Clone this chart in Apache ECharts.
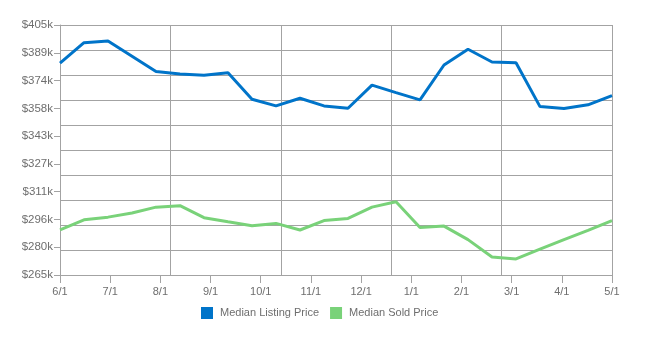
<!DOCTYPE html>
<html>
<head>
<meta charset="utf-8">
<script src="https://cdn.jsdelivr.net/npm/echarts@6/dist/echarts.min.js"></script>
<style>
html,body{margin:0;padding:0;background:#fff;}
#c{width:660px;height:342px;}
</style>
</head>
<body>
<div id="c"></div>
<script>
const monthLabels = ['6/1','7/1','8/1','9/1','10/1','11/1','12/1','1/1','2/1','3/1','4/1','5/1'];
const yTickLabels = ['$265k','$280k','$296k','$311k','$327k','$343k','$358k','$374k','$389k','$405k'];
const periodIndex = ['1','2','3','4','5','6','7','8','9','10','11','12','13','14','15','16','17','18','19','20','21','22','23','24'];
const listingPrice = [383.6,395.1,396.0,387.5,378.9,377.6,376.9,378.3,363.4,359.7,364.0,359.7,358.4,371.3,367.1,363.1,382.6,391.4,384.3,383.9,359.3,358.2,360.3,365.5];
const soldPrice = [290.3,295.9,297.4,299.7,303.0,303.8,297.1,294.8,292.6,293.9,290.2,295.5,296.7,303.0,306.0,291.6,292.4,284.8,275.1,274.0,279.5,284.8,290.0,295.4];
const seriesNames = ['Median Listing Price','Median Sold Price'];
const yMin = 265, yMax = 405;

const gridColor = '#a3a3a3';
const labelColor = '#6e6e6e';
const chart = echarts.init(document.getElementById('c'), null, {renderer:'canvas'});
chart.setOption({
  animation:false,
  textStyle:{fontFamily:'Liberation Sans, Arial, sans-serif'},
  grid:{left:60,right:48,top:25,bottom:67,containLabel:false},
  legend:{
    left:201, top:307, padding:0, icon:'rect', itemWidth:12, itemHeight:12, itemGap:11,
    textStyle:{color:labelColor,fontSize:11,padding:[0,0,0,2],fontFamily:'Liberation Sans, Arial, sans-serif'},
    data:seriesNames
  },
  xAxis:[
    {type:'category',data:monthLabels,boundaryGap:false,position:'bottom',
     axisLine:{show:true,lineStyle:{color:gridColor,width:1}},
     axisTick:{show:true,length:8,lineStyle:{color:gridColor}},
     axisLabel:{color:labelColor,fontSize:11,margin:11},
     splitLine:{show:false}},
    {type:'value',min:0,max:5,interval:1,position:'bottom',
     axisLine:{show:false},axisTick:{show:false},axisLabel:{show:false},
     splitLine:{show:true,lineStyle:{color:gridColor,width:1}}},
    {type:'category',data:periodIndex,boundaryGap:false,position:'bottom',show:false}
  ],
  yAxis:[
    {type:'value',min:0,max:9,interval:1,position:'left',
     axisLine:{show:true,lineStyle:{color:gridColor,width:1}},
     axisTick:{show:true,length:6,lineStyle:{color:gridColor}},
     axisLabel:{color:labelColor,fontSize:11.5,margin:7,formatter:(v,i)=>yTickLabels[Math.round(v)]},
     splitLine:{show:false}},
    {type:'value',min:0,max:10,interval:1,position:'left',
     axisLine:{show:false},axisTick:{show:false},axisLabel:{show:false},
     splitLine:{show:true,lineStyle:{color:gridColor,width:1}}},
    {type:'value',min:yMin,max:yMax,position:'left',show:false,splitLine:{show:false}}
  ],
  series:[
    {name:seriesNames[0],type:'line',xAxisIndex:2,yAxisIndex:2,data:listingPrice,
     symbol:'none',lineStyle:{color:'#0074c9',width:3},itemStyle:{color:'#0074c9'}},
    {name:seriesNames[1],type:'line',xAxisIndex:2,yAxisIndex:2,data:soldPrice,
     symbol:'none',lineStyle:{color:'#79d279',width:3},itemStyle:{color:'#79d279'}}
  ]
});
</script>
</body>
</html>
